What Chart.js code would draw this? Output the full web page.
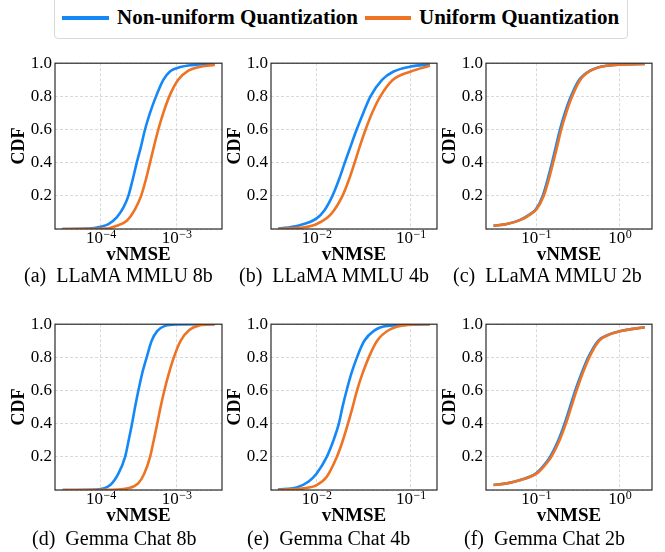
<!DOCTYPE html>
<html>
<head>
<meta charset="utf-8">
<script src="https://cdn.jsdelivr.net/npm/chart.js@4"></script>
<style>
  body { margin: 0; background: #fff; width: 665px; height: 552px; position: relative; overflow: hidden; font-family: "Liberation Serif", serif; }
  canvas { position: absolute; }
  #legend { position: absolute; left: 54px; top: -6px; width: 572px; height: 43px; border: 1px solid #d9d9d9; border-radius: 4px; }
  .sw { position: absolute; height: 4px; top: 21px; }
  .lt { position: absolute; top: 12px; font-weight: bold; font-size: 21px; line-height: 21px; color: #000; white-space: nowrap; }
  .cap { position: absolute; font-size: 20px; line-height: 20px; color: #000; white-space: pre; }
</style>
</head>
<body>
<div id="legend">
  <div class="sw" style="left:7px;width:47px;background:#1588f8"></div>
  <div class="lt" style="left:62px">Non-uniform Quantization</div>
  <div class="sw" style="left:310px;width:46px;background:#ee7322"></div>
  <div class="lt" style="left:364px">Uniform Quantization</div>
</div>
<script>
// series colours
var blue = '#1588f8';
var orange = '#ee7322';

// (a) LLaMA MMLU 8b
var llama8bNonX = [3.1e-5, 6.9e-5, 1.0e-4, 1.26e-4, 1.62e-4, 1.99e-4, 2.31e-4, 2.64e-4, 2.98e-4, 3.40e-4, 3.83e-4, 4.46e-4, 5.35e-4, 6.68e-4, 8.17e-4, 1.0e-3, 1.43e-3, 2.36e-3, 3.19e-3];
var llama8bNonY = [0, 0.002, 0.014, 0.03, 0.07, 0.13, 0.2, 0.3, 0.4, 0.5, 0.6, 0.7, 0.8, 0.9, 0.95, 0.97, 0.986, 0.995, 0.997];
var llama8bUniX = [3.1e-5, 1.14e-4, 1.62e-4, 2.2e-4, 2.83e-4, 3.40e-4, 3.94e-4, 4.46e-4, 5.04e-4, 5.74e-4, 6.68e-4, 8.02e-4, 1.05e-3, 1.43e-3, 1.93e-3, 3.19e-3];
var llama8bUniY = [0, 0.002, 0.02, 0.05, 0.12, 0.2, 0.3, 0.4, 0.5, 0.6, 0.7, 0.8, 0.9, 0.955, 0.976, 0.99];

// (b) LLaMA MMLU 4b
var llama4bNonX = [3.88e-3, 6.31e-3, 1.0e-2, 1.2e-2, 1.47e-2, 1.73e-2, 1.99e-2, 2.30e-2, 2.66e-2, 3.13e-2, 3.73e-2, 4.95e-2, 6.57e-2, 0.1, 0.16];
var llama4bNonY = [0.002, 0.02, 0.064, 0.11, 0.2, 0.3, 0.4, 0.5, 0.6, 0.7, 0.8, 0.9, 0.95, 0.98, 0.994];
var llama4bUniX = [3.88e-3, 7.41e-3, 1.0e-2, 1.42e-2, 1.88e-2, 2.21e-2, 2.53e-2, 2.88e-2, 3.31e-2, 3.88e-2, 4.75e-2, 6.47e-2, 0.1, 0.16];
var llama4bUniY = [0, 0.01, 0.03, 0.09, 0.2, 0.3, 0.4, 0.5, 0.6, 0.7, 0.8, 0.9, 0.95, 0.985];

// (c) LLaMA MMLU 2b
var llama2bNonX = [0.031, 0.0448, 0.0645, 0.0849, 0.1, 0.12, 0.1377, 0.155, 0.173, 0.193, 0.221, 0.261, 0.328, 0.44, 0.693, 1.99];
var llama2bNonY = [0.02, 0.03, 0.055, 0.09, 0.12, 0.2, 0.3, 0.4, 0.5, 0.6, 0.7, 0.8, 0.9, 0.955, 0.985, 0.995];
var llama2bUniX = [0.031, 0.0448, 0.0655, 0.0865, 0.102, 0.1235, 0.142, 0.16, 0.179, 0.2, 0.229, 0.27, 0.338, 0.45, 0.70, 1.99];
var llama2bUniY = [0.02, 0.03, 0.055, 0.09, 0.12, 0.2, 0.3, 0.4, 0.5, 0.6, 0.7, 0.8, 0.9, 0.955, 0.985, 0.995];

// (d) Gemma Chat 8b
var gemma8bNonX = [3.13e-5, 8.86e-5, 1.33e-4, 1.71e-4, 2.09e-4, 2.33e-4, 2.58e-4, 2.83e-4, 3.13e-4, 3.50e-4, 4.03e-4, 4.69e-4, 5.57e-4, 7.02e-4, 1.0e-3, 3.19e-3];
var gemma8bNonY = [0, 0.003, 0.03, 0.1, 0.2, 0.3, 0.4, 0.5, 0.6, 0.7, 0.8, 0.9, 0.96, 0.99, 0.999, 1.0];
var gemma8bUniX = [3.13e-5, 1.36e-4, 2.29e-4, 3.11e-4, 3.75e-4, 4.47e-4, 5.0e-4, 5.55e-4, 6.15e-4, 6.9e-4, 7.88e-4, 9.2e-4, 1.13e-3, 1.47e-3, 2.0e-3, 3.19e-3];
var gemma8bUniY = [0, 0.001, 0.01, 0.04, 0.1, 0.2, 0.3, 0.4, 0.5, 0.6, 0.7, 0.8, 0.9, 0.965, 0.993, 1.0];

// (e) Gemma Chat 4b
var gemma4bNonX = [3.88e-3, 6.1e-3, 8.15e-3, 1.0e-2, 1.28e-2, 1.51e-2, 1.72e-2, 1.88e-2, 2.08e-2, 2.33e-2, 2.68e-2, 3.21e-2, 4.05e-2, 5.62e-2, 0.16];
var gemma4bNonY = [0.003, 0.015, 0.05, 0.1, 0.2, 0.3, 0.4, 0.5, 0.6, 0.7, 0.8, 0.9, 0.96, 0.99, 1.0];
var gemma4bUniX = [3.88e-3, 7.2e-3, 1.0e-2, 1.28e-2, 1.64e-2, 1.9e-2, 2.15e-2, 2.41e-2, 2.68e-2, 3.06e-2, 3.58e-2, 4.39e-2, 5.86e-2, 9.2e-2, 0.16];
var gemma4bUniY = [0.001, 0.01, 0.03, 0.08, 0.2, 0.3, 0.4, 0.5, 0.6, 0.7, 0.8, 0.9, 0.965, 0.995, 1.0];

// (f) Gemma Chat 2b
var gemma2bNonX = [0.031, 0.0448, 0.0645, 0.1, 0.1245, 0.147, 0.1845, 0.219, 0.254, 0.294, 0.347, 0.42, 0.552, 0.76, 1.0, 1.99];
var gemma2bNonY = [0.03, 0.04, 0.06, 0.1, 0.15, 0.2, 0.3, 0.4, 0.5, 0.6, 0.7, 0.8, 0.9, 0.94, 0.958, 0.982];
var gemma2bUniX = [0.031, 0.0448, 0.0655, 0.102, 0.128, 0.152, 0.191, 0.227, 0.263, 0.304, 0.358, 0.432, 0.565, 0.775, 1.01, 1.99];
var gemma2bUniY = [0.03, 0.04, 0.06, 0.1, 0.15, 0.2, 0.3, 0.4, 0.5, 0.6, 0.7, 0.8, 0.9, 0.94, 0.958, 0.982];

// x tick decades and their exponents (drawn as 10^exp)
var ticks8b = [1e-4, 1e-3];
var ticks8bExp = ['\u22124', '\u22123'];
var ticks4b = [1e-2, 1e-1];
var ticks4bExp = ['\u22122', '\u22121'];
var ticks2b = [1e-1, 1];
var ticks2bExp = ['\u22121', '0'];
var yTicks = [0.2, 0.4, 0.6, 0.8, 1.0];

var captions = ['(a)  LLaMA MMLU 8b', '(b)  LLaMA MMLU 4b', '(c)  LLaMA MMLU 2b',
                '(d)  Gemma Chat 8b', '(e)  Gemma Chat 4b', '(f)  Gemma Chat 2b'];

function pts(xs, ys) {
  return xs.map(function(x, i) { return {x: x, y: ys[i]}; });
}

// draws the closed box round the plot area
var frame = {
  id: 'frame',
  afterDraw: function(chart) {
    var a = chart.chartArea, ctx = chart.ctx;
    ctx.save();
    ctx.strokeStyle = '#2a2a2a';
    ctx.lineWidth = 1.2;
    ctx.strokeRect(a.left, a.top, a.right - a.left, a.bottom - a.top);
    ctx.restore();
  }
};

// x tick labels as 10 with a raised exponent, placed by the x scale
var powerLabels = {
  id: 'powerLabels',
  afterDraw: function(chart, args, opts) {
    var sx = chart.scales.x, ctx = chart.ctx, base = chart.chartArea.bottom;
    ctx.save();
    ctx.fillStyle = '#000';
    ctx.textBaseline = 'alphabetic';
    ctx.textAlign = 'left';
    opts.values.forEach(function(v, i) {
      var px = sx.getPixelForValue(v);
      ctx.font = '17px "Liberation Serif"';
      var w1 = ctx.measureText('10').width;
      ctx.font = '12px "Liberation Serif"';
      var w2 = ctx.measureText(opts.exps[i]).width;
      var x0 = px - (w1 + w2) / 2;
      ctx.font = '17px "Liberation Serif"';
      ctx.fillText('10', x0, base + 14);
      ctx.font = '12px "Liberation Serif"';
      ctx.fillText(opts.exps[i], x0 + w1 + 0.5, base + 8.5);
    });
    ctx.restore();
  }
};

function panel(left, top, plotW, xmin, xmax, ticks, exps, nonX, nonY, uniX, uniY) {
  var c = document.createElement('canvas');
  var axisW = 55, padTop = 13, padRight = 10, axisH = 39, plotH = 166;
  c.width = axisW + plotW + padRight;
  c.height = padTop + plotH + axisH;
  c.style.left = left + 'px';
  c.style.top = top + 'px';
  document.body.appendChild(c);

  new Chart(c, {
    type: 'line',
    data: {
      datasets: [
        { label: 'Uniform Quantization', data: pts(uniX, uniY), borderColor: orange,
          borderWidth: 2.6, pointRadius: 0, fill: false, cubicInterpolationMode: 'monotone' },
        { label: 'Non-uniform Quantization', data: pts(nonX, nonY), borderColor: blue,
          borderWidth: 2.6, pointRadius: 0, fill: false, cubicInterpolationMode: 'monotone' }
      ]
    },
    options: {
      responsive: false,
      animation: false,
      layout: { padding: { top: padTop, right: padRight, left: 0, bottom: 0 } },
      plugins: {
        legend: { display: false },
        tooltip: { enabled: false },
        powerLabels: { values: ticks, exps: exps }
      },
      scales: {
        x: {
          type: 'logarithmic',
          min: xmin, max: xmax,
          afterBuildTicks: function(scale) {
            scale.ticks = ticks.map(function(v) { return {value: v}; });
          },
          afterFit: function(scale) { scale.height = axisH; },
          ticks: { display: false },
          grid: { color: '#cfcfcf', lineWidth: 0.8, drawTicks: false },
          border: { display: false, dash: [3, 2] },
          title: { display: true, text: 'vNMSE', color: '#000', padding: { top: 0, bottom: 2 },
                   font: { family: 'Liberation Serif', size: 19, weight: 'bold' } }
        },
        y: {
          min: 0, max: 1,
          afterBuildTicks: function(scale) {
            scale.ticks = [0].concat(yTicks).map(function(v) { return {value: v}; });
          },
          afterFit: function(scale) { scale.width = axisW; },
          ticks: {
            padding: 3, color: '#000',
            font: { family: 'Liberation Serif', size: 17 },
            callback: function(v) { return v === 0 ? '' : v.toFixed(1); }
          },
          grid: { color: '#cfcfcf', lineWidth: 0.8, drawTicks: false },
          border: { display: false, dash: [3, 2] },
          title: { display: true, text: 'CDF', color: '#000', padding: { top: 9, bottom: 0 },
                   font: { family: 'Liberation Serif', size: 18, weight: 'bold' } }
        }
      }
    },
    plugins: [frame, powerLabels]
  });
}

var r1 = 50, r2 = 311;
panel(0,   r1, 167, 2.48e-5, 3.98e-3, ticks8b, ticks8bExp, llama8bNonX, llama8bNonY, llama8bUniX, llama8bUniY);
panel(216, r1, 166, 3.27e-3, 0.19,    ticks4b, ticks4bExp, llama4bNonX, llama4bNonY, llama4bUniX, llama4bUniY);
panel(431, r1, 166, 0.0252,  2.43,    ticks2b, ticks2bExp, llama2bNonX, llama2bNonY, llama2bUniX, llama2bUniY);
panel(0,   r2, 167, 2.48e-5, 3.98e-3, ticks8b, ticks8bExp, gemma8bNonX, gemma8bNonY, gemma8bUniX, gemma8bUniY);
panel(216, r2, 166, 3.27e-3, 0.19,    ticks4b, ticks4bExp, gemma4bNonX, gemma4bNonY, gemma4bUniX, gemma4bUniY);
panel(431, r2, 166, 0.0252,  2.43,    ticks2b, ticks2bExp, gemma2bNonX, gemma2bNonY, gemma2bUniX, gemma2bUniY);

// sub-captions under each panel
var capLeft = [24, 239, 453, 32, 247, 464];
var capTop = [265, 265, 265, 528, 528, 528];
captions.forEach(function(t, i) {
  var d = document.createElement('div');
  d.className = 'cap';
  d.textContent = t;
  d.style.left = capLeft[i] + 'px';
  d.style.top = capTop[i] + 'px';
  document.body.appendChild(d);
});
</script>
</body>
</html>
